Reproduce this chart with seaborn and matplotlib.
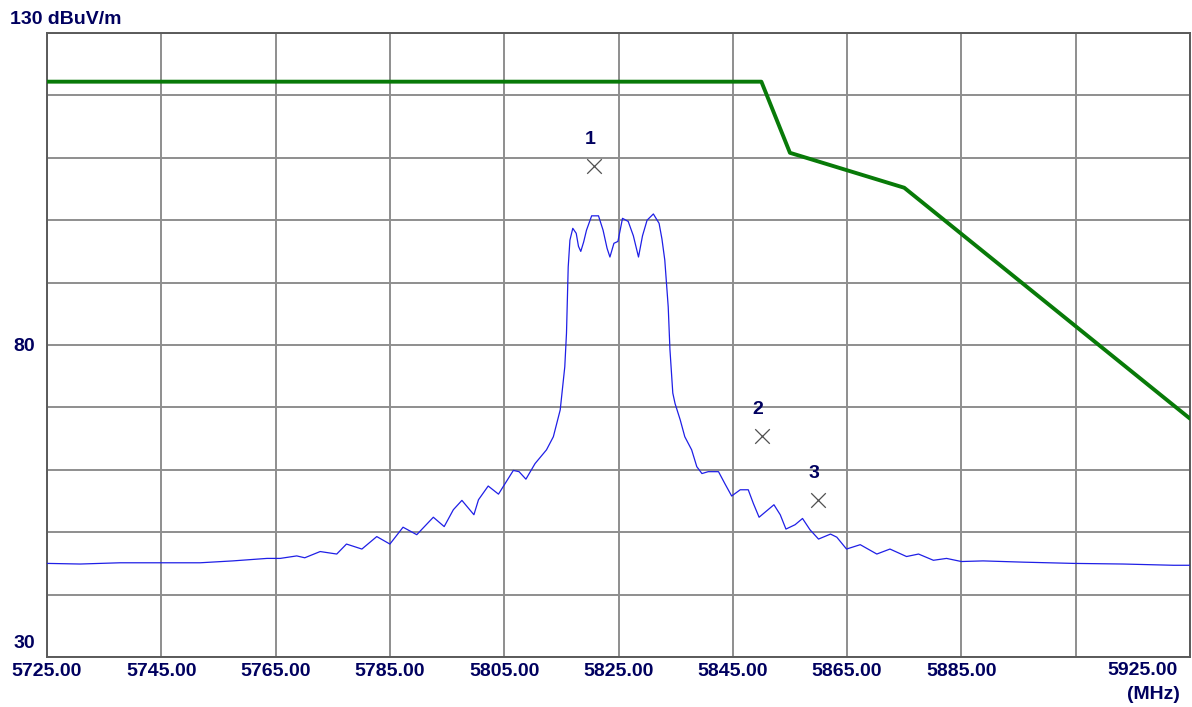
import matplotlib
matplotlib.use("Agg")
import matplotlib.pyplot as plt
import seaborn as sns
import pandas as pd

trace_freq = [5725.0, 5730.8, 5737.8, 5744.8, 5751.8, 5757.5, 5763.5, 5765.8, 5768.7, 5770.1,
              5772.8, 5775.7, 5777.4, 5780.1, 5782.7, 5785.0, 5787.3, 5789.7, 5792.6, 5794.5,
              5796.1, 5797.6, 5799.7, 5800.5, 5802.2, 5804.0, 5806.6, 5807.6, 5808.8, 5810.4,
              5812.4, 5813.6, 5814.8, 5815.6, 5815.9, 5816.2, 5816.5, 5817.0, 5817.6, 5818.0,
              5818.4, 5818.9, 5819.4, 5820.3, 5821.5, 5822.3, 5823.0, 5823.5, 5824.2, 5824.9,
              5825.7, 5826.7, 5827.6, 5828.5, 5829.2, 5830.0, 5831.1, 5832.1, 5832.6, 5833.1,
              5833.7, 5834.0, 5834.5, 5834.9, 5835.8, 5836.6, 5837.8, 5838.7, 5839.6, 5840.7,
              5842.5, 5843.6, 5844.8, 5846.3, 5847.7, 5848.6, 5849.6, 5850.9, 5852.2, 5853.3,
              5854.3, 5855.9, 5857.2, 5858.5, 5860.0, 5862.1, 5863.2, 5864.9, 5867.3, 5870.2,
              5872.5, 5875.4, 5877.5, 5880.1, 5882.4, 5885.0, 5888.8, 5895.8, 5904.6, 5913.3,
              5922.1, 5925.0]
trace_level = [45.0, 44.9, 45.1, 45.1, 45.1, 45.4, 45.8, 45.8, 46.2, 45.9,
               46.9, 46.5, 48.1, 47.3, 49.3, 48.1, 50.8, 49.6, 52.4, 50.9,
               53.6, 55.1, 52.8, 55.2, 57.4, 56.1, 59.9, 59.7, 58.5, 61.0,
               63.2, 65.3, 69.6, 76.5, 81.9, 92.5, 96.8, 98.7, 97.9, 95.8,
               95.0, 96.5, 98.4, 100.7, 100.7, 98.4, 95.5, 94.1, 96.3, 96.6,
               100.3, 99.8, 97.5, 94.1, 97.5, 100.0, 101.0, 99.5, 97.0, 93.6,
               86.1, 79.3, 72.3, 70.6, 68.0, 65.3, 63.2, 60.5, 59.4, 59.7,
               59.7, 57.8, 55.8, 56.8, 56.8, 54.6, 52.4, 53.4, 54.4, 52.8,
               50.5, 51.2, 52.2, 50.4, 48.9, 49.7, 49.2, 47.3, 48.0, 46.5,
               47.3, 46.1, 46.5, 45.5, 45.8, 45.3, 45.4, 45.2, 45.0, 44.9,
               44.7, 44.7]

# limit line
limit_freq = [5725, 5850, 5855, 5875, 5925]
limit_level = [122.2, 122.2, 110.8, 105.2, 68.2]

# markers
marker_id = ["1", "2", "3"]
marker_freq = [5820.7, 5850.1, 5859.9]
marker_level = [108.7, 65.4, 55.2]

x_ticks = [5725, 5745, 5765, 5785, 5805, 5825, 5845, 5865, 5885, 5905, 5925]
x_labels = ["5725.00", "5745.00", "5765.00", "5785.00", "5805.00", "5825.00",
            "5845.00", "5865.00", "5885.00", "", ""]

trace = pd.DataFrame({"freq": trace_freq, "level": trace_level})
limit = pd.DataFrame({"freq": limit_freq, "level": limit_level})
marks = pd.DataFrame({"freq": marker_freq, "level": marker_level, "id": marker_id})

sns.set_style("white")
plt.rcParams["font.family"] = ["Liberation Sans", "DejaVu Sans"]
txt = "#00005f"

fig = plt.figure(figsize=(11.92, 7.07), dpi=100)
ax = fig.add_axes([47 / 1192, 50 / 707, 1143 / 1192, 624 / 707])

sns.lineplot(data=trace, x="freq", y="level", ax=ax, color="#1f1fe6", linewidth=0.9,
             sort=False, estimator=None, zorder=3)
sns.lineplot(data=limit, x="freq", y="level", ax=ax, color="#087a08", linewidth=2.8,
             sort=False, estimator=None, zorder=4)
sns.scatterplot(data=marks, x="freq", y="level", ax=ax, marker="x", s=110,
                color="#505050", linewidth=0.9, zorder=5)
for _, r in marks.iterrows():
    ax.annotate(r["id"], (r["freq"], r["level"]), xytext=(-3, 19), textcoords="offset points",
                ha="center", va="center", fontsize=14, fontweight="bold", color=txt)

ax.set_xlim(5725, 5925)
ax.set_ylim(30, 130)
ax.set_xticks(x_ticks)
ax.set_xticklabels(x_labels)
ax.set_yticks(range(30, 131, 10))
ax.set_yticklabels(["", "", "", "", "", "80", "", "", "", "", ""])
ax.grid(True, color="#8e8e8e", linewidth=1.4)
ax.tick_params(length=0, labelsize=14, labelcolor=txt)
ax.tick_params(axis="x", pad=4)
ax.tick_params(axis="y", pad=9)
for lab in ax.get_xticklabels() + ax.get_yticklabels():
    lab.set_fontweight("bold")
ax.set_xlabel("")
ax.set_ylabel("")
for s in ax.spines.values():
    s.set_color("#5a5a5a")
    s.set_linewidth(1.4)

lab_kw = dict(fontsize=14, fontweight="bold", color=txt, va="baseline")
fig.text(10 / 1192, 1 - 24 / 707, "130 dBuV/m", ha="left", **lab_kw)
fig.text(35 / 1192, 1 - 648 / 707, "30", ha="right", **lab_kw)
fig.text(1178 / 1192, 1 - 675 / 707, "5925.00", ha="right", **lab_kw)
fig.text(1180 / 1192, 1 - 699 / 707, "(MHz)", ha="right", **lab_kw)

fig.savefig("out.png", dpi=100)
